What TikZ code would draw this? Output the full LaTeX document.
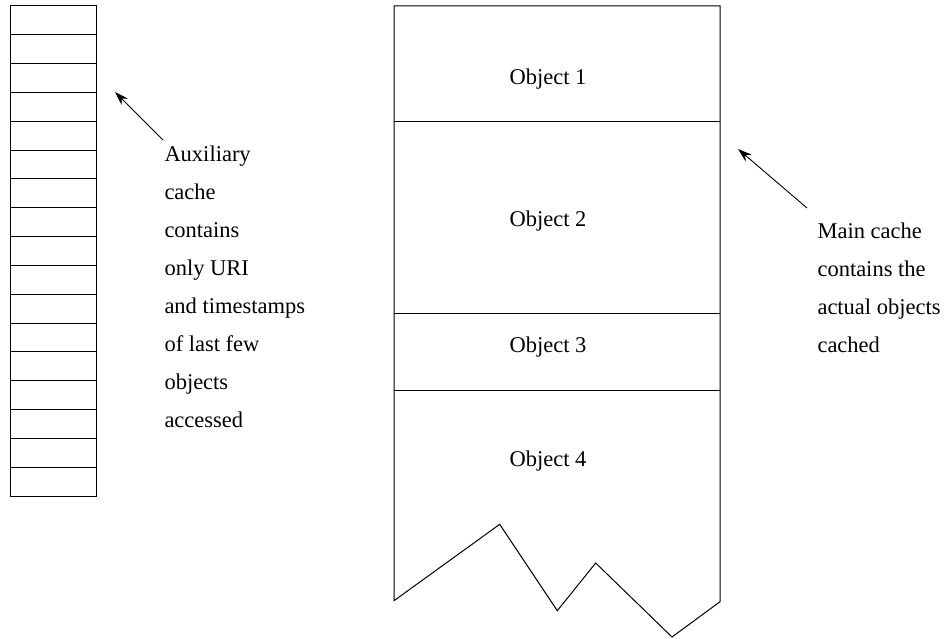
\documentclass[tikz,border=0pt]{standalone}
\usepackage{fontspec}
\setmainfont{Liberation Serif}
\usetikzlibrary{arrows.meta}
\begin{document}
\begin{tikzpicture}[x=1pt,y=-1pt,line width=1pt,
  lbl/.style={font=\fontsize{22.5}{27}\selectfont,inner sep=0pt,anchor=base west},
  obj/.style={font=\fontsize{22.5}{27}\selectfont,inner sep=0pt,anchor=base},
  ptr/.style={-{Stealth[length=14pt,width=9pt]},line width=0.9pt}]
\useasboundingbox (0,0) rectangle (944,639);
% auxiliary cache cells
\foreach \i in {0,...,16}
  \draw (10,{6+\i*28.824}) rectangle (96,{6+(\i+1)*28.824});
% main cache outline
\draw (394,6) -- (720,6) -- (720,601.7) -- (672,637) -- (595.7,563)
  -- (557.3,610.7) -- (499.7,524.3) -- (394,600.7) -- cycle;
\draw (394,121.7) -- (720,121.7);
\draw (394,313.3) -- (720,313.3);
\draw (394,390) -- (720,390);
% object labels
\node[obj] (o1) at (548,85) {Object 1};
\node[obj] (o2) at (548,226) {Object 2};
\node[obj] (o3) at (548,352.5) {Object 3};
\node[obj] (o4) at (548,466) {Object 4};
% auxiliary text
\foreach \t [count=\k] in {Auxiliary,cache,contains,only URI,and timestamps,of last few,objects,accessed}
  \node[lbl] (aux\k) at (164,{161+(\k-1)*38}) {\t};
% main text
\foreach \t [count=\k] in {Main cache,contains the,actual objects,cached}
  \node[lbl] (mc\k) at (817,{238+(\k-1)*38}) {\t};
% arrows
\coordinate (a1s) at (163,140);
\coordinate (a1e) at (115,92);
\coordinate (a2s) at (807,208);
\coordinate (a2e) at (738,149);
\draw[ptr] (a1s) -- (a1e);
\draw[ptr] (a2s) -- (a2e);
\end{tikzpicture}
\end{document}
